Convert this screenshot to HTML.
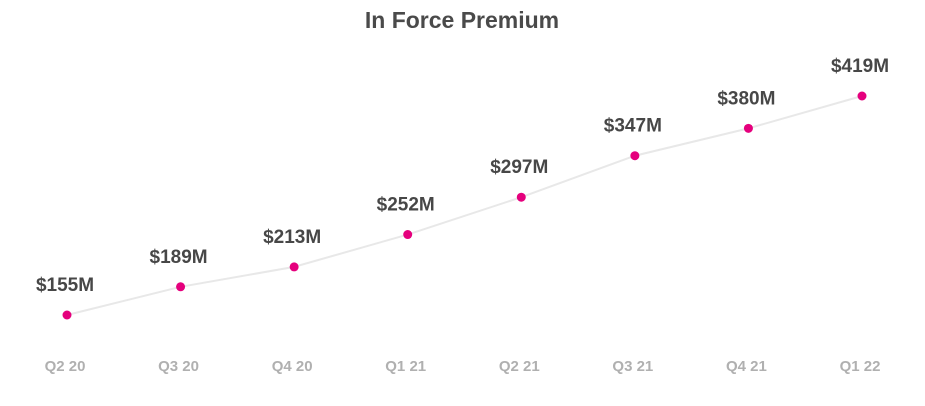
<!DOCTYPE html>
<html><head><meta charset="utf-8"><style>
html,body{margin:0;padding:0;background:#fff;}
svg{display:block;font-family:"Liberation Sans",sans-serif;}
</style></head><body>
<svg id="chart" width="925" height="406">
<text x="462" y="28" text-anchor="middle" font-size="23" font-weight="bold" fill="#4a4a4a">In Force Premium</text>
<g id="line-layer"></g><g id="dot-layer"></g><g id="label-layer"></g><g id="axis-layer"></g>
</svg>
<script>
const categories = ["Q2 20","Q3 20","Q4 20","Q1 21","Q2 21","Q3 21","Q4 21","Q1 22"];
const values = [155,189,213,252,297,347,380,419];
const valueLabels = ["$155M","$189M","$213M","$252M","$297M","$347M","$380M","$419M"];
const NS="http://www.w3.org/2000/svg";
function xScale(i){return 67+i*(862-67)/(categories.length-1);}
function yScale(v){return 315-(v-155)*(219/264);}
const svg=document.getElementById('chart');
const lineL=document.getElementById('line-layer'),dotL=document.getElementById('dot-layer'),labL=document.getElementById('label-layer'),axL=document.getElementById('axis-layer');
const pl=document.createElementNS(NS,'polyline');
pl.setAttribute('points',values.map((v,i)=>xScale(i)+','+yScale(v)).join(' '));
pl.setAttribute('fill','none');pl.setAttribute('stroke','#e8e8e8');pl.setAttribute('stroke-width','2');


lineL.appendChild(pl);
values.forEach((v,i)=>{
  const c=document.createElementNS(NS,'circle');
  c.setAttribute('cx',xScale(i));c.setAttribute('cy',yScale(v));c.setAttribute('r','4.5');c.setAttribute('fill','#e5007d');
  
  
  dotL.appendChild(c);
  const t=document.createElementNS(NS,'text');
  t.setAttribute('x',xScale(i)-2);t.setAttribute('y',yScale(v)-24);t.setAttribute('text-anchor','middle');
  t.setAttribute('font-size','19');t.setAttribute('font-weight','bold');t.setAttribute('fill','#474747');
  t.textContent=valueLabels[i];
  
  
  labL.appendChild(t);
  const a=document.createElementNS(NS,'text');
  a.setAttribute('x',xScale(i)-2);a.setAttribute('y',371);a.setAttribute('text-anchor','middle');
  a.setAttribute('font-size','15');a.setAttribute('font-weight','bold');a.setAttribute('fill','#b0b0b0');
  a.textContent=categories[i];
  
  
  axL.appendChild(a);
});
</script>
</body></html>
